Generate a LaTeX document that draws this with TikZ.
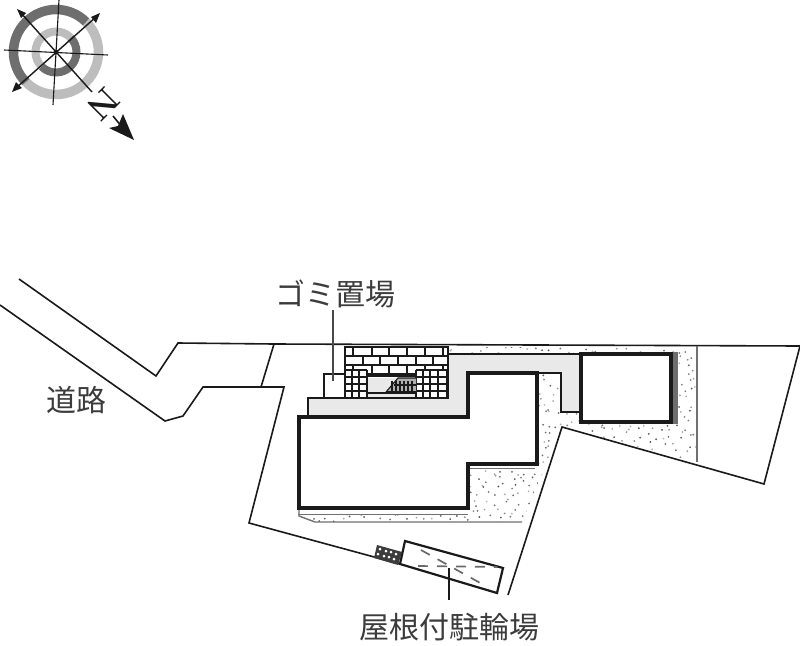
\documentclass[tikz,border=0pt]{standalone}
\usepackage{fontspec}
\usepackage{xcolor}
\usepackage{tikz}
\newfontfamily\jpfont{Noto Sans CJK JP}
\definecolor{ink}{HTML}{1A1A1A}
\definecolor{muted}{HTML}{707070}
\definecolor{pale}{HTML}{E9E9E9}
\definecolor{ringD}{HTML}{6E6E6E}
\definecolor{ringL}{HTML}{BDBDBD}
\tikzset{
  lotline/.style={draw=ink, line width=1.6pt},
  wall/.style={draw=ink, line width=4.8pt, fill=white},
  thin/.style={draw=ink, line width=1.1pt},
  hairline/.style={draw=muted, line width=1.4pt},
  brick/.style={draw=ink, line width=1.6pt},
  tile/.style={draw=ink, line width=2pt},
  lab/.style={text=ink!85, font=\jpfont\fontsize{30}{32}\selectfont, inner sep=0pt},
  compass/.style={draw=ink, line width=1.4pt},
  dashes/.style={draw=ink!65, line width=1.7pt, dash pattern=on 10pt off 9pt}
}
\newcommand{\RingPart}[4]{%
  % #1 = colour, #2 = radius, #3 = width, #4 = start angle
  \draw[#1, line width=#3] (C)++(#4:#2) arc[start angle=#4, delta angle=180, radius=#2];
}
\begin{document}
\begin{tikzpicture}[x=1pt, y=-1pt, line cap=butt, line join=miter]
  \useasboundingbox[fill=white] (0,0) rectangle (800,645);
  % ground areas
  \coordinate (P1) at (448,347);
  \coordinate (P2) at (697,347);
  \coordinate (P3) at (697,462);
  \coordinate (P4) at (562,427);
  \coordinate (P5) at (522,522);
  \coordinate (P6) at (315,522);
  \coordinate (P7) at (299,515);
  \begin{scope}
    \clip (P1)--(P2)--(P3)--(P4)--(P5)--(P6)--(P7)--(299,415)--(448,415)--cycle;
    \pgfmathsetseed{4711}
    \foreach \i in {0,...,49}{
      \foreach \j in {0,...,22}{
        \pgfmathsetmacro{\dotx}{299+\i*8+rnd*8}
        \pgfmathsetmacro{\doty}{347+\j*8+rnd*8}
        \pgfmathsetmacro{\dotg}{25+rnd*45}
        \fill[black!\dotg] (\dotx,\doty) circle[radius=1];
      }
    }
  \end{scope}
  \fill[pale] (308,416)--(308,398)--(448,398)--(448,354)--(581,354)--(581,412)--(561,412)--(561,373)--(468,373)--(468,416)--cycle;
  \draw[thin] (308,416)--(308,398)--(345,398);
  \draw[thin] (448,354)--(581,354);
  \draw[thin] (537,373)--(561,373)--(561,412)--(581,412);
  % road and lot
  \draw[lotline] (19,279)--(156,376)--(178,343)--(274,344)--(800,346)--(764,484)--(562,427)--(508,595);
  \draw[lotline] (0,305)--(165,421)--(183,416)--(203,387)--(284,387)--(249,523)--(400,564);
  \draw[lotline] (274,344)--(261,387);
  \draw[hairline] (697,346)--(697,462);
  % lines below and beside the buildings
  \fill[white] (299,510) rectangle (468,514);
  \draw[hairline] (298,514.5)--(468,514.5);
  \fill[white] (468,466) rectangle (537,470);
  \draw[hairline] (468,468.5)--(535,468.5);
  \draw[hairline] (299,510)--(299,516)--(315,522)--(522,522);
  \fill[ringD] (672,352) rectangle (678,424);
  % buildings
  \draw[wall] (299,417)--(468,417)--(468,373)--(537,373)--(537,464)--(468,464)--(468,508)--(299,508)--cycle;
  \draw[wall] (581,354)--(671,354)--(671,422)--(581,422)--cycle;
  % bricks
  \fill[white] (345,347) rectangle (448,398);
  \foreach \y in {356,365,374}{
    \draw[brick] (345,\y)--(448,\y);
  }
  \foreach \x in {353,372,389,407,425,443}{
    \draw[brick] (\x,347)--(\x,356);
    \draw[brick] (\x,365)--(\x,374);
  }
  \foreach \x in {363,380,398,416,433}{
    \draw[brick] (\x,356)--(\x,365);
  }
  \fill[white] (368,375) rectangle (416,398);
  \fill[pale] (368,378) rectangle (416,393);
  \draw[brick] (368,376)--(416,376);
  \draw[thin] (366,393)--(366,398);
  \draw[thin] (366,393)--(420,393);
  \fill[pale] (366,394) rectangle (420,398);
  % tiled parts
  \fill[white] (345,370) rectangle (368,398);
  \fill[white] (416,370) rectangle (448,398);
  \foreach \x in {345,352,359,367}{
    \draw[tile] (\x,370)--(\x,398);
  }
  \foreach \x in {416,423,430,438,447}{
    \draw[tile] (\x,370)--(\x,398);
  }
  \foreach \y in {370,377,384,391}{
    \draw[tile] (345,\y)--(367,\y);
    \draw[tile] (416,\y)--(448,\y);
  }
  % stairs
  \fill[ink!35] (386,392)--(398,378)--(416,378)--(416,392)--cycle;
  \draw[thin] (386,392)--(398,378)--(416,378);
  \draw[line width=2.2pt, draw=ink] (386,392)--(416,392);
  \foreach \x in {392,396,400,404,408,412}{
    \draw[thin] (\x,381)--(\x,392);
  }
  \draw[thin] (394,385)--(416,385);
  \draw[line width=2.4pt, draw=ink] (345,347)--(448,347)--(448,398)--(345,398)--cycle;
  % rubbish box and leader
  \draw[thin] (345,374)--(324,374)--(324,398)--(345,398);
  \node[lab] (gomi) at (335,294) {ゴミ置場};
  \coordinate (gomiEnd) at (333,381);
  \draw[draw=ink!80, line width=1.2pt] (gomi.south -| gomiEnd)++(0,2)--(gomiEnd);
  % cycle parking
  \draw[draw=ink, line width=2.2pt, fill=white] (405,541)--(503,568)--(497,593)--(400,564)--cycle;
  \draw[dashes] (421,550)--(482,584);
  \draw[dashes] (418,566)--(497,567);
  \fill[ink!85] (377,545)--(402,552)--(398,565)--(374,558)--cycle;
  \foreach \x/\y in {380/549,386/551,391/552,396/554,378/554,384/556,389/557,394/559}{
    \fill[white] (\x,\y) circle[radius=1.5];
  }
  \node[lab] (bike) at (449,627) {屋根付駐輪場};
  \coordinate (bikeEnd) at (449,568);
  \draw[draw=ink, line width=1.2pt] (449,600)--(bikeEnd);
  \node[lab] (road) at (76,400) {道路};
  % compass
  \coordinate (C) at (56,52);
  \RingPart{ringL}{42.5}{9.5pt}{-45}
  \RingPart{ringD}{42.5}{9.5pt}{135}
  \RingPart{ringD}{20.5}{8pt}{-45}
  \RingPart{ringL}{20.5}{8pt}{135}
  \draw[compass, line width=1.1pt] (59,0)--(53,105);
  \draw[compass, line width=1.1pt] (4,50)--(108,55);
  \draw[compass] (21,13)--(92,92);
  \draw[compass] (96,17)--(16,88);
  \fill[ink] (17,9)--(26,13)--(21,18)--cycle;
  \fill[ink] (100,13)--(96,23)--(91,17)--cycle;
  \fill[ink] (12,92)--(16,82)--(22,88)--cycle;
  \fill[ink] (56,52) circle[radius=2.5];
  \node[text=ink, font=\bfseries\fontsize{34}{34}\selectfont, inner sep=0pt, rotate=-135] (north) at (103,104) {N};
  \draw[compass, line width=1.6pt] (113,116)--(122,127);
  \fill[ink] (134,140)--(109,128)--(118,126)--(123,114)--cycle;
\end{tikzpicture}
\end{document}
